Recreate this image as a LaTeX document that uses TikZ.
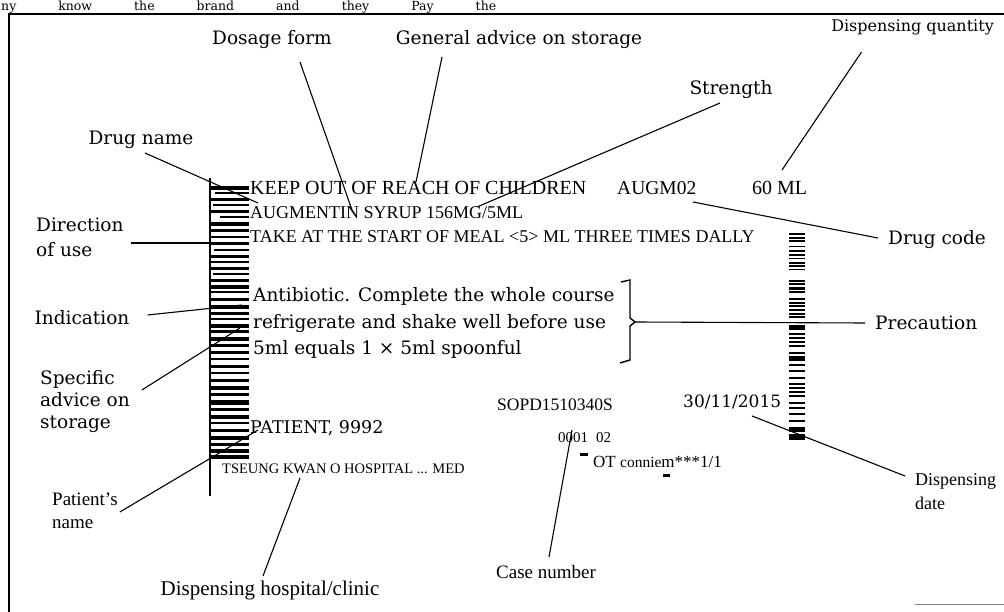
\documentclass[tikz,border=0pt]{standalone}
\usepackage{fontspec}
\usetikzlibrary{positioning}
\newfontfamily\lblfont{DejaVu Serif}
\newfontfamily\tagfont{Liberation Serif}
\newcommand{\sz}[2]{\fontsize{#1}{#2}\selectfont}
\tikzset{
  lbl/.style={font=\lblfont\sz{18.5}{24}, inner sep=0pt},
  lblnarrow/.style={font=\tagfont\sz{19}{23}, inner sep=0pt},
  tag/.style={font=\tagfont\sz{18}{22}, inner sep=0pt, anchor=base west},
  lead/.style={line width=1.1pt}
}
\begin{document}
\begin{tikzpicture}[x=1pt,y=-1pt]
      \useasboundingbox (0,0) rectangle (1004,612);
      % Frame
      \draw[line width=1.6pt] (9,612) -- (9,14) -- (1004,14);
      \draw[gray, line width=0.8pt] (915,604) -- (1004,604);
      \node[lbl, font=\lblfont\sz{12.5}{14}, anchor=base west] (topline) at (1,10.5) {\makebox[495pt][s]{ny know the brand and they Pay the}};
      % Barcodes
      \draw[line width=1.2pt] (210,178) -- (210,496);
      \foreach \y/\t/\x in {186/4/211, 192/2/215, 198/3/211, 204/2/213, 210/3/211, 216/2/220,
          222/4/211, 229/3/211, 236/2/211, 242/3/211, 249/2/214, 255/3/211, 261/2/211,
          267/3/211, 273/2/213, 279/3/211, 285/4/211, 291/2/211, 298/3/211, 305/4/211,
          312/3/211, 318/2/211, 324/4/211, 330/3/211, 337/4/211, 344/3/211, 351/3/211,
          358/2/211, 365/3/211, 372/2/211, 379/3/211, 386/4/211, 393/3/211, 400/5/211,
          408/3/211, 415/4/211, 422/2/211, 429/3/211, 436/4/211, 443/3/211, 449/4/211, 455/4/211}
        \fill (\x,\y) rectangle (249,{\y+\t});
      \foreach \y/\t in {233/2, 237/2, 240/2, 246/1.5, 250/2, 254/2, 258/1.5, 262/2, 265/2,
          269/1.5, 280/2, 283/2, 287/3, 291/2, 298/2, 302/2, 305/2, 309/2, 313/2, 316/2,
          325/5, 333/2, 337/2, 341/2, 345/2, 352/2, 356/5, 364/2, 370/2, 377/2, 383/2,
          387/2, 391/2, 395/2, 402/2, 407/2, 413/2, 420/2, 427/5, 434/6}
        \fill (789,\y) rectangle (805,{\y+\t});
      % Label text
      \node[tag, font=\tagfont\sz{20}{24}] (keep) at (250,195) {KEEP OUT OF REACH OF CHILDREN};
      \node[tag] (drug) at (250,219) {AUGMENTIN SYRUP 156MG/5ML};
      \node[tag] (take) at (250,243) {TAKE AT THE START OF MEAL <5> ML THREE TIMES DALLY};
      \node[tag, font=\tagfont\sz{19.5}{24}] (code) at (617,195) {AUGM02};
      \node[tag, font=\tagfont\sz{20}{24}] (qty) at (752,195) {60 ML};
      \node[tag, font=\lblfont\sz{18.5}{24}] (antib) at (253,302) {Antibiotic. Complete the whole course};
      \node[tag, font=\lblfont\sz{18.5}{24}] (refrig) at (253,329) {refrigerate and shake well before use};
      \node[tag, font=\lblfont\sz{18.5}{24}] (spoon) at (253,355) {5ml equals 1 × 5ml spoonful};
      \node[tag, font=\lblfont\sz{17.5}{22}] (patname) at (250,433) {PATIENT, 9992};
      \node[tag, font=\tagfont\sz{14.5}{18}] (hosp) at (222,473) {TSEUNG KWAN O HOSPITAL ... MED};
      \node[tag, font=\tagfont\sz{17.5}{22}] (case) at (497,410) {SOPD1510340S};
      \node[tag, font=\lblfont\sz{17}{22}] (date) at (683,407) {30/11/2015};
      \node[tag, font=\tagfont\sz{15}{18}] (seq) at (558,442) {0001\hspace{8pt}02};
      \node[tag, font=\tagfont\sz{17}{18}] (user) at (593,467) {OT {\sz{15.5}{18}connie}m***1/1};
      \fill (580,453) rectangle (588,456);
      \fill (663,474) rectangle (670,477);
      \draw[line width=1.4pt] (621,282) -- (630,280) -- (630,318) -- (635,322) -- (630,326) -- (630,360) -- (620,363);
      % Define nodes
      \node[lbl] (dosage) at (272,40) {Dosage form};
      \node[lbl] (storage) at (519,40) {General advice on storage};
      \node[lbl, font=\lblfont\sz{16}{20}, anchor=east] (quantity) at (994,27) {Dispensing quantity};
      \node[lbl] (strength) at (731,90) {Strength};
      \node[lbl] (drugname) at (141,140) {Drug name};
      \node[lbl, anchor=west, align=left, font=\lblfont\sz{18.5}{25}] (direction) at (36,237) {Direction\\of use};
      \node[lbl] (indication) at (82,318) {Indication};
      \node[lbl, anchor=west, align=left, font=\lblfont\sz{18.5}{22}] (specific) at (40,402) {Specific\\advice on\\storage};
      \node[lbl, anchor=west] (drugcode) at (888,240) {Drug code};
      \node[lbl, anchor=west] (precaution) at (875,323) {Precaution};
      \node[lblnarrow, anchor=west, align=left] (patient) at (52,511) {Patient’s\\name};
      \node[lblnarrow, font=\tagfont\sz{21}{24}] (hospital) at (270,590) {Dispensing hospital/clinic};
      \node[lblnarrow] (casenum) at (546,572) {Case number};
      \node[lblnarrow, anchor=west, align=left, font=\tagfont\sz{18}{24}] (dispdate) at (915,492) {Dispensing\\date};
      % Connector ends
      \coordinate (dosage-tip) at (352,210);
      \coordinate (storage-tip) at (416,182);
      \coordinate (quantity-tip) at (782,170);
      \coordinate (strength-tip) at (477,207);
      \coordinate (drugname-tip) at (258,203);
      \coordinate (direction-tip) at (210,243);
      \coordinate (indication-tip) at (242,305);
      \coordinate (specific-tip) at (240,328);
      \coordinate (patient-tip) at (258,430);
      \coordinate (hospital-tip) at (300,478);
      \coordinate (casenum-tip) at (572,430);
      \coordinate (drugcode-tip) at (693,202);
      \coordinate (precaution-tip) at (635,322);
      \coordinate (dispdate-tip) at (752,416);
      % Connect nodes
      \draw[lead] ([xshift=28pt,yshift=-22pt]dosage.center) -- (dosage-tip);
      \draw[lead] ([xshift=-77pt,yshift=-17pt]storage.center) -- (storage-tip);
      \draw[lead] ([xshift=-51pt,yshift=-25pt]quantity.center) -- (quantity-tip);
      \draw[lead] ([xshift=-11pt,yshift=-13pt]strength.center) -- (strength-tip);
      \draw[lead] ([xshift=4pt,yshift=-13pt]drugname.center) -- (drugname-tip);
      \draw[lead] ([xshift=7pt,yshift=-6pt]direction.east) -- (direction-tip);
      \draw[lead] ([xshift=18pt,yshift=3pt]indication.east) -- (indication-tip);
      \draw[lead] ([xshift=12pt,yshift=12pt]specific.east) -- (specific-tip);
      \draw[lead] ([xshift=2pt,yshift=-1pt]patient.east) -- (patient-tip);
      \draw[lead] ([xshift=-7pt,yshift=14pt]hospital.center) -- (hospital-tip);
      \draw[lead] ([xshift=3pt,yshift=15pt]casenum.center) -- (casenum-tip);
      \draw[lead] ([xshift=-10pt,yshift=2pt]drugcode.west) -- (drugcode-tip);
      \draw[lead] ([xshift=-10pt]precaution.west) -- (precaution-tip);
      \draw[lead] ([xshift=-10pt,yshift=16pt]dispdate.west) -- (dispdate-tip);
\end{tikzpicture}
\end{document}
